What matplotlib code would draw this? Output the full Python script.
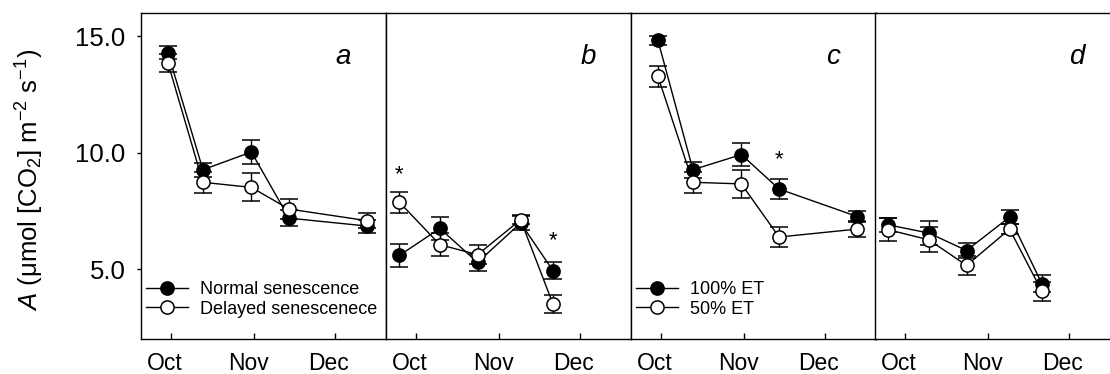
import matplotlib
matplotlib.use("Agg")
import matplotlib.pyplot as plt
from matplotlib.transforms import ScaledTranslation

plt.rcParams['font.family'] = ['Liberation Sans', 'DejaVu Sans']
plt.rcParams['mathtext.fontset'] = 'custom'
plt.rcParams['mathtext.rm'] = 'Liberation Sans'
plt.rcParams['mathtext.it'] = 'Liberation Sans:italic'

# sampling days, counted from 1 October
days_ac = [-1, 12, 30, 44, 73]
days_bd = [-6, 9, 23, 39, 51]

month_ticks = [0, 31, 61]
month_labels = ["Oct", "Nov", "Dec"]

# panel a: senescence
a_normal = [14.29, 9.27, 10.03, 7.19, 6.85]
a_normal_se = [0.28, 0.3, 0.5, 0.35, 0.28]
a_delayed = [13.86, 8.73, 8.51, 7.58, 7.08]
a_delayed_se = [0.4, 0.45, 0.6, 0.43, 0.33]

# panel b: senescence
b_normal = [5.59, 6.75, 5.29, 6.98, 4.94]
b_normal_se = [0.5, 0.5, 0.35, 0.3, 0.36]
b_delayed = [7.87, 6.05, 5.62, 7.12, 3.51]
b_delayed_se = [0.45, 0.5, 0.42, 0.2, 0.4]

# panel c: irrigation
c_full = [14.83, 9.27, 9.92, 8.44, 7.26]
c_full_se = [0.2, 0.35, 0.5, 0.42, 0.25]
c_half = [13.28, 8.73, 8.66, 6.38, 6.72]
c_half_se = [0.45, 0.45, 0.6, 0.44, 0.34]

# panel d: irrigation
d_full = [6.9, 6.55, 5.8, 7.24, 4.37]
d_full_se = [0.3, 0.5, 0.34, 0.28, 0.37]
d_half = [6.69, 6.26, 5.16, 6.72, 4.04]
d_half_se = [0.5, 0.53, 0.41, 0.2, 0.39]

# significance marks (panel, day, y)
stars = [(1, -6, 9.04), (1, 51, 6.23), (2, 44, 9.68)]

panels = [
    ("a", days_ac, a_normal, a_normal_se, a_delayed, a_delayed_se,
     ["Normal senescence", "Delayed senescenece"]),
    ("b", days_bd, b_normal, b_normal_se, b_delayed, b_delayed_se, None),
    ("c", days_ac, c_full, c_full_se, c_half, c_half_se,
     ["100% ET", "50% ET"]),
    ("d", days_bd, d_full, d_full_se, d_half, d_half_se, None),
]

W, H = 1110, 374
fig = plt.figure(figsize=(W / 100, H / 100), dpi=100)

lefts = [141, 386, 631, 875]
pw = 245
bottom_px, top_px = 339, 13

axes = []
for i, (letter, days, s1, e1, s2, e2, leg) in enumerate(panels):
    ax = fig.add_axes([lefts[i] / W, (H - bottom_px) / H, pw / W,
                       (bottom_px - top_px) / H])
    axes.append(ax)
    kw = dict(color="black", lw=1.0, elinewidth=1.0, capsize=6.5,
              capthick=1.0, marker="o", ms=9.5, mew=1.1, mec="black")
    h1 = ax.errorbar(days, s1, yerr=e1, mfc="black", **kw)
    h2 = ax.errorbar(days, s2, yerr=e2, mfc="white", **kw)
    ax.set_xlim(-11, 80)
    ax.set_ylim(2, 16)
    ax.set_xticks(month_ticks)
    ax.set_xticklabels(month_labels, fontsize=16.5)
    ax.tick_params(axis="x", direction="in", length=4, width=1, pad=9)
    for lab in ax.get_xticklabels():
        lab.set_transform(lab.get_transform() +
                          ScaledTranslation(-6 / 100, 0, fig.dpi_scale_trans))
    if i == 0:
        ax.set_yticks([5, 10, 15])
        ax.set_yticklabels(["5.0", "10.0", "15.0"], fontsize=18.5)
        ax.tick_params(axis="y", direction="out", length=3, width=1, pad=8)
    else:
        ax.set_yticks([])
    for sp in ax.spines.values():
        sp.set_linewidth(1.0)
    ax.text(0.825, 0.866, letter, transform=ax.transAxes, fontsize=20,
            style="italic", ha="center", va="center")
    if leg:
        ax.legend([h1.lines[0], h2.lines[0]], leg, loc="lower left",
                  bbox_to_anchor=(0.015, 0.06),
                  frameon=False, fontsize=13, handlelength=2.3,
                  handletextpad=0.65, labelspacing=0.12, borderpad=0.1,
                  borderaxespad=0.0)

for (pi, dx, dy) in stars:
    axes[pi].text(dx, dy, "*", fontsize=16, ha="center", va="center")

fig.text(30 / W, (H - 180) / H,
         r"$\it{A}$ ($\mathrm{\mu}$mol [CO$_2$] m$^{-2}$ s$^{-1}$)",
         rotation=90, ha="center", va="center", fontsize=18.5)

fig.savefig("out.png", dpi=100)
